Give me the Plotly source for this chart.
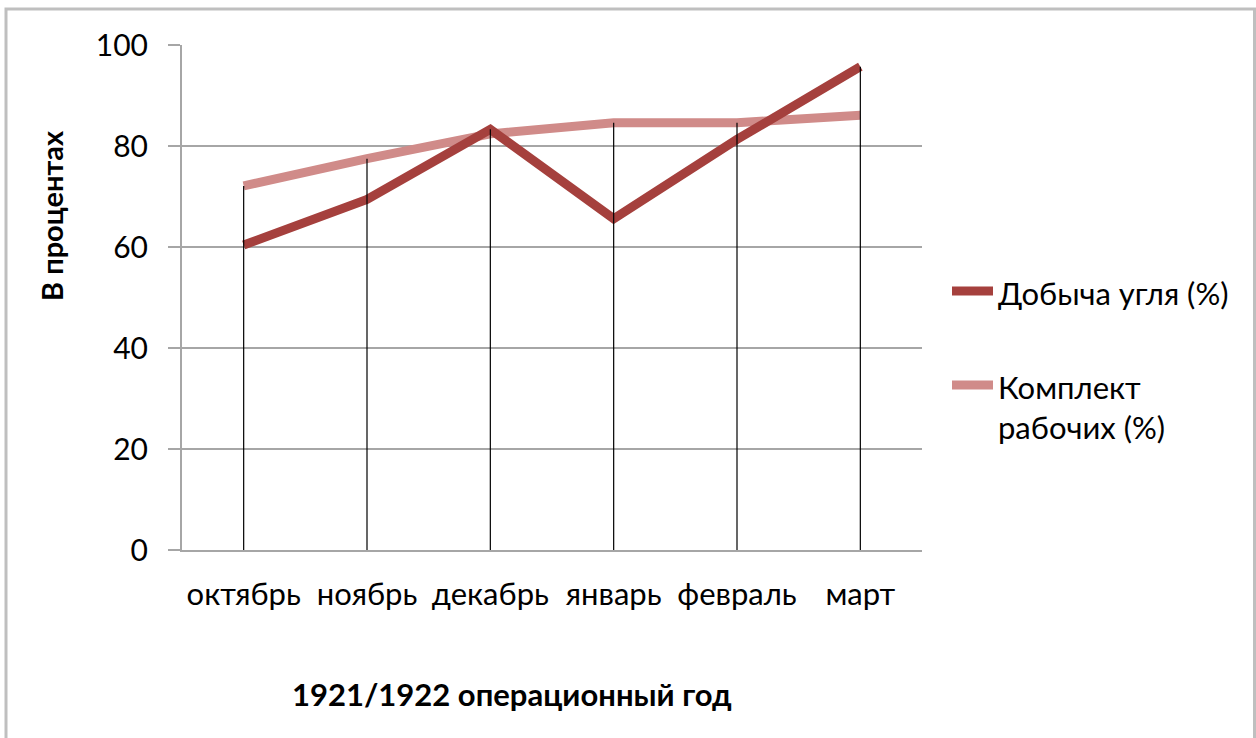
import plotly.graph_objects as go

months = ["октябрь", "ноябрь", "декабрь", "январь", "февраль", "март"]
coal = [60.4, 69.4, 83.3, 65.6, 81.3, 95.7]
workers = [72.1, 77.5, 82.4, 84.6, 84.6, 86.1]
coal_name = "Добыча угля (%)"
workers_name_lines = ["Комплект", "рабочих (%)"]
y_ticks = [0, 20, 40, 60, 80, 100]

W, H = 1256, 738
L, R, T, B = 182, 922, 45, 550  # plot area in px

def px(x):
    return (x - L) / (R - L)

def py(y):
    return (B - y) / (B - T)

FONT = "Lato"
C1 = "#A5403D"
C2 = "#D08B89"
GRID = "#A6A6A6"

fig = go.Figure()
fig.add_trace(go.Scatter(x=months, y=workers, mode="lines", name="workers",
                         line=dict(color=C2, width=9), showlegend=False, cliponaxis=False))
fig.add_trace(go.Scatter(x=months, y=coal, mode="lines", name=coal_name,
                         line=dict(color=C1, width=9), showlegend=False, cliponaxis=False))

# drop lines from the highest series value down to the axis
dx, dy = [], []
for m, a, b in zip(months, coal, workers):
    dx += [m, m, None]
    dy += [0, max(a, b), None]
fig.add_trace(go.Scatter(x=dx, y=dy, mode="lines", line=dict(color="black", width=1.2),
                         showlegend=False, hoverinfo="skip"))

shapes = [
    # outer chart border
    dict(type="rect", xref="paper", yref="paper", x0=px(6), x1=px(1254.5), y0=py(760), y1=py(9),
         line=dict(color="#BFBFBF", width=3), fillcolor="rgba(0,0,0,0)", layer="below"),
    # legend samples
    dict(type="line", xref="paper", yref="paper", x0=px(952), x1=px(993), y0=py(291), y1=py(291),
         line=dict(color=C1, width=9)),
    dict(type="line", xref="paper", yref="paper", x0=px(952), x1=px(993), y0=py(385), y1=py(385),
         line=dict(color=C2, width=9)),
]

TF = 31
annotations = [
    dict(text=coal_name, xref="paper", yref="paper", x=px(996), y=py(293), xanchor="left",
         yanchor="middle", showarrow=False, font=dict(family=FONT, size=TF, color="black")),
    dict(text=workers_name_lines[0], xref="paper", yref="paper", x=px(996), y=py(387), xanchor="left",
         yanchor="middle", showarrow=False, font=dict(family=FONT, size=TF, color="black")),
    dict(text=workers_name_lines[1], xref="paper", yref="paper", x=px(996), y=py(427), xanchor="left",
         yanchor="middle", showarrow=False, font=dict(family=FONT, size=TF, color="black")),
    dict(text="<b>В процентах</b>", xref="paper", yref="paper", x=px(52), y=py(216), textangle=-90,
         xanchor="center", yanchor="middle", showarrow=False,
         font=dict(family=FONT, size=29, color="black")),
    dict(text="<b>1921/1922 операционный год</b>", xref="paper", yref="paper", x=px(512), y=py(694),
         xanchor="center", yanchor="middle", showarrow=False,
         font=dict(family=FONT, size=31, color="black")),
]

fig.update_layout(
    width=W, height=H,
    margin=dict(l=L, r=W - R, t=T, b=H - B, pad=0),
    paper_bgcolor="white", plot_bgcolor="white",
    shapes=shapes, annotations=annotations,
    font=dict(family=FONT, color="black"),
    xaxis=dict(type="category", range=[-0.5, 5.5], showgrid=False, showline=True,
               linecolor=GRID, linewidth=2, ticks="", tickfont=dict(family=FONT, size=TF),
               ticklabelstandoff=16, zeroline=False, fixedrange=True),
    yaxis=dict(range=[0, 100], tickvals=y_ticks, showgrid=True, gridcolor=GRID, gridwidth=1.5,
               showline=True, linecolor=GRID, linewidth=2, ticks="outside", ticklen=12,
               tickcolor=GRID, tickwidth=1.5, tickfont=dict(family=FONT, size=30),
               ticklabelstandoff=14, zeroline=False, fixedrange=True),
)

fig.write_html("out.html", config={"displayModeBar": False},
               post_script="document.body.style.margin='0';document.body.style.overflow='hidden';")
